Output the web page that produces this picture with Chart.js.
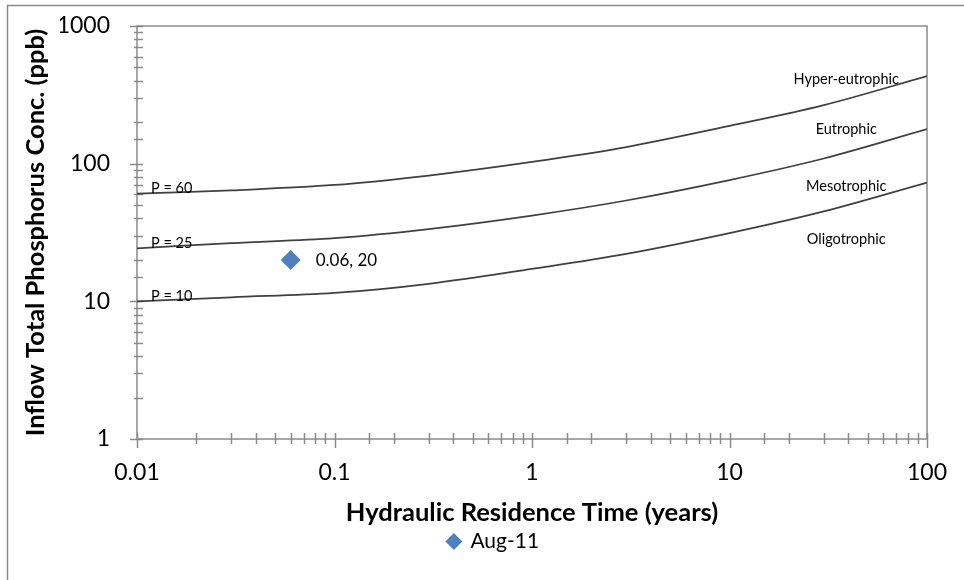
<!DOCTYPE html>
<html>
<head>
<meta charset="utf-8">
<script src="https://cdn.jsdelivr.net/npm/chart.js@4.4.0/dist/chart.umd.min.js"></script>
<style>
  html, body { margin: 0; padding: 0; background: #fff; }
  #wrap { width: 964px; height: 580px; position: relative; }
</style>
</head>
<body>
<div id="wrap"><canvas id="c" width="964" height="580"></canvas></div>
<script>
// Hydraulic residence time (years) at which the boundary curves are sampled
const residenceTime = [0.01, 0.03, 0.1, 0.3, 1, 3, 10, 30, 100];
// Lake phosphorus levels (ppb) that bound the trophic zones
const boundaryP = [60, 25, 10];
// Inflow total phosphorus (ppb) along each boundary
const inflowP60 = [60.5, 64, 70, 82, 103, 132, 188, 266, 433];
const inflowP25 = [24.2, 26.5, 28.8, 33.5, 42, 54, 76, 109, 178];
const inflowP10 = [10.0, 10.7, 11.5, 13.4, 17.2, 22.1, 31.3, 45, 73];
// Sampled lake
const sampleLabel = 'Aug-11';
const sampleTime = [0.06];
const sampleP = [20];
// Decade tick labels
const xTickLabels = ['0.01', '0.1', '1', '10', '100'];
const yTickLabels = ['1', '10', '100', '1000'];
// Trophic zone names, top to bottom
const zoneNames = ['Hyper-eutrophic', 'Eutrophic', 'Mesotrophic', 'Oligotrophic'];

const FONT = 'Lato, "Open Sans", sans-serif';
const AXIS = '#8a8a8a';
const CURVE = '#404040';
const POINT = '#4f81bd';

const curves = [inflowP60, inflowP25, inflowP10];
const pairs = (xs, ys) => xs.map((x, i) => ({ x, y: ys[i] }));
const isDecade = v => Math.abs(Math.log10(v) - Math.round(Math.log10(v))) < 1e-6;
const decadeLabel = (labels, v) => labels.find(l => Math.abs(Math.log10(parseFloat(l)) - Math.log10(v)) < 1e-6) || '';

const datasets = curves.map((vals, i) => ({
  label: 'P = ' + boundaryP[i],
  data: pairs(residenceTime, vals),
  showLine: true,
  borderColor: CURVE,
  borderWidth: 1.75,
  pointRadius: 0,
  tension: 0.35,
  fill: false,
  order: 2
}));
datasets.push({
  label: sampleLabel,
  data: pairs(sampleTime, sampleP),
  showLine: false,
  pointStyle: 'rectRot',
  pointRadius: 10,
  backgroundColor: POINT,
  borderColor: POINT,
  borderWidth: 0,
  order: 1
});

// Zone names sit in data space, right of x = 39 years
const zoneAnchors = [
  { x: 39, y: 411 }, { x: 39, y: 178 }, { x: 39, y: 68.4 }, { x: 39, y: 28.1 }
];

const overlay = {
  id: 'overlay',
  beforeDraw(chart) {
    const ctx = chart.ctx;
    ctx.save();
    ctx.fillStyle = '#fff';
    ctx.fillRect(0, 0, chart.width, chart.height);
    ctx.strokeStyle = AXIS;
    ctx.lineWidth = 1.5;
    ctx.strokeRect(7.5, 5.5, 1200, 1200);
    ctx.restore();
  },
  beforeDatasetsDraw(chart) {
    const ctx = chart.ctx;
    const a = chart.chartArea;
    const xs = chart.scales.x, ys = chart.scales.y;
    ctx.save();
    ctx.strokeStyle = AXIS;
    ctx.lineWidth = 1.5;
    ctx.strokeRect(a.left, a.top, a.right - a.left, a.bottom - a.top);
    ctx.beginPath();
    ys.ticks.forEach(t => {
      const y = Math.round(ys.getPixelForValue(t.value)) + 0.5;
      if (isDecade(t.value)) { ctx.moveTo(a.left - 7, y); ctx.lineTo(a.left + 6, y); }
      else { ctx.moveTo(a.left - 3, y); ctx.lineTo(a.left + 6, y); }
    });
    xs.ticks.forEach(t => {
      const x = Math.round(xs.getPixelForValue(t.value)) + 0.5;
      if (isDecade(t.value)) { ctx.moveTo(x, a.bottom - 6); ctx.lineTo(x, a.bottom + 9); }
      else { ctx.moveTo(x, a.bottom - 6); ctx.lineTo(x, a.bottom + 5); }
    });
    ctx.stroke();
    ctx.restore();
  },
  afterDatasetsDraw(chart) {
    const ctx = chart.ctx;
    const xs = chart.scales.x, ys = chart.scales.y;
    ctx.save();
    ctx.fillStyle = '#000';
    // Boundary labels at the start of each curve
    ctx.font = '14.5px ' + FONT;
    ctx.textAlign = 'left';
    ctx.textBaseline = 'middle';
    curves.forEach((vals, i) => {
      const px = xs.getPixelForValue(residenceTime[0]);
      const py = ys.getPixelForValue(vals[0]);
      ctx.fillText('P = ' + boundaryP[i], px + 14, py - 5);
    });
    // Zone names
    ctx.textAlign = 'center';
    zoneNames.forEach((name, i) => {
      ctx.fillText(name, xs.getPixelForValue(zoneAnchors[i].x), ys.getPixelForValue(zoneAnchors[i].y));
    });
    // Value label beside the sample point
    ctx.font = '17px ' + FONT;
    ctx.textAlign = 'left';
    sampleTime.forEach((t, i) => {
      const px = xs.getPixelForValue(t), py = ys.getPixelForValue(sampleP[i]);
      ctx.fillText(t + ', ' + sampleP[i], px + 25, py + 1);
    });
    ctx.restore();
  }
};

new Chart(document.getElementById('c'), {
  type: 'scatter',
  data: { datasets },
  plugins: [overlay],
  options: {
    responsive: false,
    animation: false,
    events: [],
    layout: { padding: { left: 60, right: 37, top: 26, bottom: 18 } },
    scales: {
      x: {
        type: 'logarithmic',
        min: 0.01, max: 100,
        afterFit: s => { s.height = 86; s.paddingLeft = 0; s.paddingRight = 0; },
        border: { display: false },
        grid: { display: false, drawTicks: false },
        ticks: {
          autoSkip: false, maxRotation: 0, padding: 20,
          color: '#000', font: { family: FONT, size: 23 },
          callback: v => isDecade(v) ? decadeLabel(xTickLabels, v) : ''
        },
        title: {
          display: true, text: 'Hydraulic Residence Time (years)',
          color: '#000', font: { family: FONT, size: 25.5, weight: 'bold' },
          padding: { top: 0, bottom: -3 }
        }
      },
      y: {
        type: 'logarithmic',
        min: 1, max: 1000,
        afterFit: s => { s.width = 77; s.paddingTop = 0; s.paddingBottom = 0; },
        border: { display: false },
        grid: { display: false, drawTicks: false },
        ticks: {
          autoSkip: false, padding: 27,
          color: '#000', font: { family: FONT, size: 23 },
          callback: v => isDecade(v) ? decadeLabel(yTickLabels, v) : ''
        },
        title: {
          display: true, text: 'Inflow Total Phosphorus Conc. (ppb)',
          color: '#000', font: { family: FONT, size: 25.5, weight: 'bold' },
          padding: { top: -40, bottom: 0 }
        }
      }
    },
    plugins: {
      tooltip: { enabled: false },
      legend: {
        position: 'bottom',
        labels: {
          filter: item => item.text === sampleLabel,
          usePointStyle: true,
          boxWidth: 12, boxHeight: 12,
          padding: 6,
          color: '#000',
          font: { family: FONT, size: 21 }
        }
      }
    }
  }
});
</script>
</body>
</html>
